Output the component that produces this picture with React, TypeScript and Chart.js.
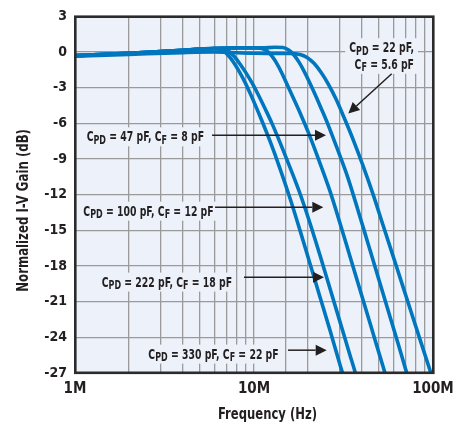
import React, { useEffect, useRef } from 'react';
import { Chart, registerables } from 'chart.js';

Chart.register(...registerables);

const FAMILY = "'DejaVu Sans Condensed', 'Liberation Sans Narrow', sans-serif";
const CURVE_COLOR = '#0076BE';
const PLOT_BG = '#EDF2FA';
const GRID_COLOR = '#9A9A9A';
const TEXT_COLOR = '#231F20';

// Frequencies in MHz, gain in dB
const freq330 = [1, 2, 3, 4, 5, 6, 6.46, 6.89, 7.34, 7.83, 8.35, 8.91, 9.5, 10.13, 11.08, 12.29, 13.97, 15.89, 18.07, 20.55, 23.37, 26.58, 30.23, 32.24];
const gain330 = [-0.3, -0.1, 0.05, 0.15, 0.25, 0.32, 0.22, 0.0, -0.45, -1.05, -1.75, -2.55, -3.45, -4.4, -5.8, -7.5, -9.8, -12.3, -15.0, -17.8, -20.6, -23.4, -26.3, -27.7];

const freq222 = [1, 2, 3, 4, 5, 6, 6.63, 7.16, 7.73, 8.35, 9.02, 9.75, 10.53, 11.52, 12.6, 13.97, 15.89, 18.07, 20.55, 23.37, 26.58, 30.23, 34.38, 36.67, 38.1];
const gain222 = [-0.3, -0.1, 0.05, 0.15, 0.25, 0.3, 0.3, 0.1, -0.35, -1.0, -1.75, -2.6, -3.55, -4.75, -6.0, -7.6, -9.7, -11.9, -14.4, -17.1, -19.9, -22.7, -25.5, -26.9, -27.8];

const freq100 = [1, 2, 3, 4, 5, 6, 8, 10.26, 11.08, 11.82, 12.6, 13.45, 14.34, 15.29, 16.51, 18.07, 20.03, 22.78, 26.58, 30.23, 34.38, 39.1, 44.46, 50.57, 53.92, 56.05];
const gain100 = [-0.3, -0.1, 0.05, 0.15, 0.25, 0.3, 0.35, 0.35, 0.3, 0.1, -0.35, -1.0, -1.8, -2.7, -3.8, -5.1, -6.7, -8.9, -11.7, -14.4, -17.2, -20.0, -22.8, -25.6, -27.0, -27.9];

const freq47 = [1, 2, 3, 4, 5, 6, 8, 11.08, 13.1, 14.52, 15.69, 16.73, 17.84, 19.03, 20.29, 21.92, 23.67, 25.91, 29.47, 33.51, 38.1, 43.35, 49.29, 56.05, 63.75, 70.67, 74.4];
const gain47 = [-0.3, -0.1, 0.05, 0.15, 0.25, 0.3, 0.35, 0.35, 0.4, 0.38, 0.15, -0.25, -0.85, -1.6, -2.45, -3.55, -4.7, -6.1, -8.3, -10.6, -13.3, -16.1, -18.9, -21.7, -24.5, -26.8, -27.9];

const freq22 = [1, 2, 4, 6, 10, 14, 15.89, 18.07, 19.78, 21.64, 23.67, 25.91, 28.72, 32.24, 36.2, 40.63, 46.22, 52.56, 59.78, 68.0, 77.3, 87.9, 100];
const gain22 = [-0.35, -0.2, -0.05, 0.0, -0.1, -0.12, -0.12, -0.2, -0.45, -0.95, -1.7, -2.65, -3.95, -5.7, -7.55, -9.55, -11.95, -14.55, -17.15, -19.75, -22.35, -24.95, -27.55];

const seriesNames = ['330 pF', '222 pF', '100 pF', '47 pF', '22 pF'];
const seriesFreqs = [freq330, freq222, freq100, freq47, freq22];
const seriesGains = [gain330, gain222, gain100, gain47, gain22];

const xTickLabels: Record<string, string> = { '1': '1M', '10': '10M', '100': '100M' };
const yMin = -27;
const yMax = 3;
const yStep = 3;
const xMin = 1;
const xMax = 100;

const xTitle = 'Frequency (Hz)';
const yTitle = 'Normalized I-V Gain (dB)';

type Part = { t: string; sub?: boolean };
type Line = { parts: Part[]; x: number; y: number; align: 'left' | 'right' };
type Annot = { lines: Line[]; arrow: [number, number][] };

// annotation anchors in data units (MHz, dB)
const annotations: Annot[] = [
  {
    lines: [
      { parts: [{ t: 'C' }, { t: 'PD', sub: true }, { t: ' = 22 pF,' }], x: 78.3, y: 0.41, align: 'right' },
      { parts: [{ t: 'C' }, { t: 'F', sub: true }, { t: ' = 5.6 pF' }], x: 78.3, y: -0.99, align: 'right' },
    ],
    arrow: [[58.8, -1.82], [33.64, -5.16]],
  },
  {
    lines: [{ parts: [{ t: 'C' }, { t: 'PD', sub: true }, { t: ' = 47 pF, C' }, { t: 'F', sub: true }, { t: ' = 8 pF' }], x: 1.162, y: -7.09, align: 'left' }],
    arrow: [[5.83, -7.0], [25.25, -7.0]],
  },
  {
    lines: [{ parts: [{ t: 'C' }, { t: 'PD', sub: true }, { t: ' = 100 pF, C' }, { t: 'F', sub: true }, { t: ' = 12 pF' }], x: 1.113, y: -13.34, align: 'left' }],
    arrow: [[6.06, -13.05], [24.39, -13.05]],
  },
  {
    lines: [{ parts: [{ t: 'C' }, { t: 'PD', sub: true }, { t: ' = 222 pF, C' }, { t: 'F', sub: true }, { t: ' = 18 pF' }], x: 1.41, y: -19.31, align: 'left' }],
    arrow: [[8.79, -18.94], [24.6, -18.94]],
  },
  {
    lines: [{ parts: [{ t: 'C' }, { t: 'PD', sub: true }, { t: ' = 330 pF, C' }, { t: 'F', sub: true }, { t: ' = 22 pF' }], x: 2.568, y: -25.37, align: 'left' }],
    arrow: [[15.49, -25.08], [25.48, -25.08]],
  },
];

const MAIN_SIZE = 14;
const SUB_SIZE = 12;
const SX = 0.74;
const mainFont = `bold ${MAIN_SIZE}px ${FAMILY}`;
const subFont = `bold ${SUB_SIZE}px ${FAMILY}`;

function richWidth(ctx: CanvasRenderingContext2D, parts: Part[]) {
  let w = 0;
  for (const p of parts) {
    ctx.font = p.sub ? subFont : mainFont;
    w += ctx.measureText(p.t).width;
  }
  return w * SX;
}

function lineBox(chart: any, ctx: CanvasRenderingContext2D, line: Line) {
  const xs = chart.scales.x;
  const ys = chart.scales.y;
  const w = richWidth(ctx, line.parts);
  const px = xs.getPixelForValue(line.x);
  const py = ys.getPixelForValue(line.y);
  const left = line.align === 'left' ? px : px - w;
  return { left, w, cy: py };
}

function drawScaledText(ctx: CanvasRenderingContext2D, text: string, x: number, y: number, sx: number) {
  ctx.save();
  ctx.translate(x, y);
  ctx.scale(sx, 1);
  ctx.fillText(text, 0, 0);
  ctx.restore();
}

const decorPlugin = {
  id: 'decor',
  beforeDraw(chart: any) {
    const { ctx, chartArea: a } = chart;
    ctx.save();
    ctx.fillStyle = PLOT_BG;
    ctx.fillRect(a.left, a.top, a.right - a.left, a.bottom - a.top);
    ctx.restore();
  },
  beforeDatasetsDraw(chart: any) {
    const { ctx } = chart;
    ctx.save();
    ctx.fillStyle = PLOT_BG;
    for (const an of annotations) {
      for (const line of an.lines) {
        const b = lineBox(chart, ctx, line);
        ctx.fillRect(b.left - 4, b.cy - 9, b.w + 8, 19);
      }
    }
    ctx.restore();
  },
  afterDatasetsDraw(chart: any) {
    const { ctx } = chart;
    const xs = chart.scales.x;
    const ys = chart.scales.y;
    ctx.save();
    ctx.fillStyle = TEXT_COLOR;
    ctx.strokeStyle = TEXT_COLOR;
    ctx.textBaseline = 'alphabetic';
    ctx.textAlign = 'left';
    for (const an of annotations) {
      for (const line of an.lines) {
        const b = lineBox(chart, ctx, line);
        const base = b.cy + MAIN_SIZE * 0.36;
        let cx = b.left;
        for (const p of line.parts) {
          ctx.font = p.sub ? subFont : mainFont;
          drawScaledText(ctx, p.t, cx, base + (p.sub ? 2.5 : 0), SX);
          cx += ctx.measureText(p.t).width * SX;
        }
      }
      const [p0, p1] = an.arrow;
      const x0 = xs.getPixelForValue(p0[0]);
      const y0 = ys.getPixelForValue(p0[1]);
      const x1 = xs.getPixelForValue(p1[0]);
      const y1 = ys.getPixelForValue(p1[1]);
      const ang = Math.atan2(y1 - y0, x1 - x0);
      const len = 11;
      const hw = 5.5;
      const bx = x1 - len * Math.cos(ang);
      const by = y1 - len * Math.sin(ang);
      ctx.lineWidth = 1.5;
      ctx.beginPath();
      ctx.moveTo(x0, y0);
      ctx.lineTo(bx, by);
      ctx.stroke();
      ctx.beginPath();
      ctx.moveTo(x1, y1);
      ctx.lineTo(bx + hw * Math.sin(ang), by - hw * Math.cos(ang));
      ctx.lineTo(bx - hw * Math.sin(ang), by + hw * Math.cos(ang));
      ctx.closePath();
      ctx.fill();
    }
    ctx.restore();
  },
  afterDraw(chart: any) {
    const { ctx, chartArea: a } = chart;
    ctx.save();
    ctx.strokeStyle = '#2B2B2B';
    ctx.lineWidth = 2.6;
    ctx.strokeRect(a.left + 0.3, a.top + 0.3, a.right - a.left, a.bottom - a.top - 0.5);
    ctx.fillStyle = TEXT_COLOR;
    ctx.font = `bold 15px ${FAMILY}`;
    ctx.textAlign = 'center';
    ctx.textBaseline = 'middle';
    drawScaledText(ctx, xTitle, a.left + 192.5, a.bottom + 42, 0.86);
    ctx.translate(24.5, a.top + 194);
    ctx.rotate(-Math.PI / 2);
    drawScaledText(ctx, yTitle, 0, 0, 0.87);
    ctx.restore();
  },
};

export default function App() {
  const ref = useRef<HTMLCanvasElement | null>(null);
  useEffect(() => {
    if (!ref.current) return;
    const datasets = seriesNames.map((name, i) => ({
      label: name,
      data: seriesFreqs[i].map((f, j) => ({ x: f, y: seriesGains[i][j] })),
      borderColor: CURVE_COLOR,
      borderWidth: 3.6,
      pointRadius: 0,
      fill: false,
      cubicInterpolationMode: 'monotone' as const,
      clip: 0,
    }));
    const chart = new Chart(ref.current, {
      type: 'line',
      data: { datasets },
      plugins: [decorPlugin],
      options: {
        animation: false,
        responsive: false,
        devicePixelRatio: 1,
        layout: { padding: { left: 0, right: 22, top: 14, bottom: 0 } },
        plugins: { legend: { display: false }, tooltip: { enabled: false } },
        scales: {
          x: {
            type: 'logarithmic',
            min: xMin,
            max: xMax,
            border: { display: false },
            grid: { color: GRID_COLOR, lineWidth: 1.3, drawTicks: false },
            afterFit: (s: any) => {
              s.height = 55;
              s.paddingRight = 0;
              s.paddingLeft = 0;
            },
            ticks: {
              autoSkip: false,
              maxRotation: 0,
              padding: 7,
              color: TEXT_COLOR,
              font: { family: FAMILY, size: 15, weight: 'bold' },
              callback: (v: any) => {
                const k = String(Math.round(Number(v) * 1000) / 1000);
                return xTickLabels[k] ?? '';
              },
            },
          },
          y: {
            type: 'linear',
            min: yMin,
            max: yMax,
            border: { display: false },
            grid: { color: GRID_COLOR, lineWidth: 1.3, drawTicks: false },
            afterFit: (s: any) => { s.width = 75; },
            ticks: {
              stepSize: yStep,
              padding: 8,
              color: TEXT_COLOR,
              font: { family: FAMILY, size: 14, weight: 'bold' },
            },
          },
        },
      },
    });
    return () => chart.destroy();
  }, []);
  return (
    <div style={{ position: 'fixed', left: 0, top: 0, width: 455, height: 428, background: '#fff' }}>
      <canvas ref={ref} width={455} height={428} />
    </div>
  );
}
